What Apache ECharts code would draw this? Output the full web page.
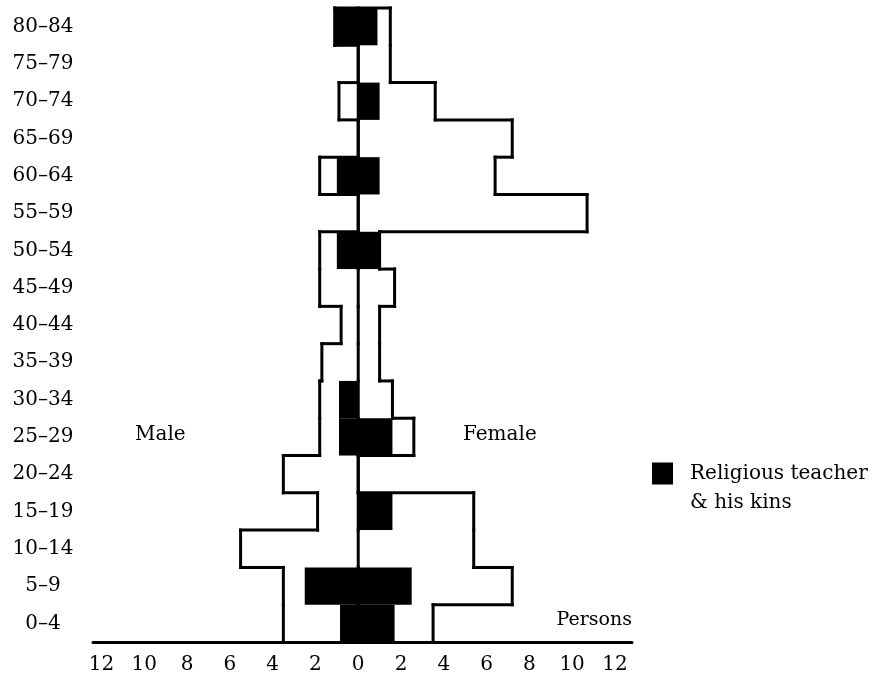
<!DOCTYPE html>
<html lang="en" style="height: 100%">
<head>
  <meta charset="utf-8">
</head>
<body style="height: 100%; margin: 0; background: #fff">
  <div id="container" style="width: 882px; height: 681px"></div>

  <script type="text/javascript" src="https://cdn.jsdelivr.net/npm/echarts@6/dist/echarts.min.js"></script>

  <script type="text/javascript">
    // age groups, bottom row first
    var ages = ['0–4', '5–9', '10–14', '15–19', '20–24', '25–29', '30–34', '35–39', '40–44',
                '45–49', '50–54', '55–59', '60–64', '65–69', '70–74', '75–79', '80–84'];
    // all persons (outlined step shape)
    var maleTotal   = [3.5, 3.5, 5.5, 1.9, 3.5, 1.8, 1.8, 1.7, 0.8, 1.8, 1.8, 0, 1.8, 0, 0.9, 0, 1.1];
    var femaleTotal = [3.5, 7.2, 5.4, 5.4, 0, 2.6, 1.6, 1.0, 1.0, 1.7, 1.0, 10.7, 6.4, 7.2, 3.6, 1.5, 1.5];
    // religious teacher & his kins (black bars)
    var maleKin   = [0.85, 2.5, 0, 0, 0, 0.9, 0.9, 0, 0, 0, 1, 0, 1, 0, 0, 0, 1.1];
    var femaleKin = [1.7, 2.5, 0, 1.6, 0, 1.6, 0, 0, 0, 0, 1, 0, 1, 0, 1, 0, 0.9];
    var xTicks = [-12, -10, -8, -6, -4, -2, 0, 2, 4, 6, 8, 10, 12];

    var serif = 'DejaVu Serif';
    var kinName = 'Religious teacher & his kins';

    var dom = document.getElementById('container');
    var myChart = echarts.init(dom, null, { renderer: 'canvas' });

    // draws the silhouette of the totals: no lines between rows, only the outer steps
    function renderOutline(params, api) {
      var i = api.value(1);
      var c = api.coord([0, i]);
      var h = api.size([0, 1])[1];
      var yTop = c[1] - h / 2;
      var yBot = c[1] + h / 2;
      var xm = api.coord([-maleTotal[i], i])[0];
      var xf = api.coord([femaleTotal[i], i])[0];
      var segs = [
        [c[0], yTop, c[0], yBot],
        [xm, yTop, xm, yBot],
        [xf, yTop, xf, yBot]
      ];
      if (i > 0) {
        segs.push([xm, yBot, api.coord([-maleTotal[i - 1], i])[0], yBot]);
        segs.push([xf, yBot, api.coord([femaleTotal[i - 1], i])[0], yBot]);
      }
      if (i === ages.length - 1) {
        segs.push([xm, yTop, xf, yTop]);
      }
      return {
        type: 'group',
        children: segs.map(function (s) {
          return {
            type: 'line',
            shape: { x1: s[0], y1: s[1], x2: s[2], y2: s[3] },
            style: { stroke: '#000', lineWidth: 3, lineCap: 'square' }
          };
        })
      };
    }

    var option = {
      backgroundColor: '#fff',
      animation: false,
      grid: { left: 93, right: 250, top: 8, bottom: 39, outerBoundsMode: 'none' },
      legend: {
        data: [kinName],
        left: 652,
        top: 430,
        padding: 0,
        icon: 'rect',
        itemWidth: 21,
        itemHeight: 22,
        // leading empty line keeps the first text line level with the square
        formatter: function () { return '\nReligious teacher\n& his kins'; },
        textStyle: {
          fontFamily: serif,
          fontSize: 20,
          color: '#000',
          lineHeight: 29,
          padding: [0, 0, 0, 12]
        }
      },
      xAxis: {
        type: 'value',
        min: -12.4,
        max: 12.8,
        splitLine: { show: false },
        axisTick: { show: false },
        axisLine: { show: true, onZero: false, lineStyle: { color: '#000', width: 3 } },
        axisLabel: {
          customValues: xTicks,
          margin: 13,
          color: '#000',
          fontFamily: serif,
          fontSize: 20,
          formatter: function (v) { return Math.abs(v); }
        }
      },
      yAxis: {
        type: 'category',
        data: ages,
        axisLine: { show: false, onZero: false },
        axisTick: { show: false },
        axisLabel: {
          align: 'center',
          margin: 50,
          color: '#000',
          fontFamily: serif,
          fontSize: 20
        }
      },
      graphic: [
        {
          type: 'text', left: 135, top: 425,
          style: { text: 'Male', font: '20px "DejaVu Serif"', fill: '#000' }
        },
        {
          type: 'text', left: 463, top: 425,
          style: { text: 'Female', font: '20px "DejaVu Serif"', fill: '#000' }
        },
        {
          type: 'text', right: 250, top: 611,
          style: { text: 'Persons', font: '19px "DejaVu Serif"', fill: '#000' }
        }
      ],
      series: [
        {
          name: kinName,
          type: 'bar',
          stack: 'kin',
          barCategoryGap: '0%',
          itemStyle: { color: '#000' },
          data: maleKin.map(function (v) { return -v; })
        },
        {
          name: kinName,
          type: 'bar',
          stack: 'kin',
          barCategoryGap: '0%',
          itemStyle: { color: '#000' },
          data: femaleKin
        },
        {
          type: 'custom',
          renderItem: renderOutline,
          data: ages.map(function (a, i) { return [0, i]; }),
          encode: { x: 0, y: 1 },
          silent: true,
          z: 3
        }
      ]
    };

    myChart.setOption(option);
    window.addEventListener('resize', myChart.resize);
  </script>
</body>
</html>
